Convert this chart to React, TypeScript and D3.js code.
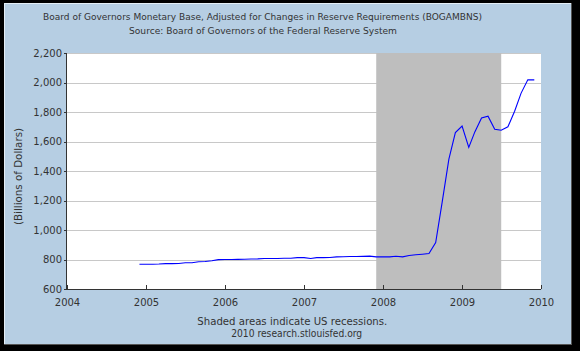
import React from "react";
import * as d3 from "d3";

const startMonth = "2004-12";
const values = [
  768,
  768, 768, 769, 772, 772, 773, 778, 778, 785, 786, 792, 799,
  800, 800, 801, 802, 803, 804, 807, 807, 807, 808, 808, 813,
  813, 807, 813, 813, 814, 818, 819, 820, 820, 821, 823, 818,
  818, 818, 822, 818, 827, 832, 836, 841, 915, 1189, 1480, 1660,
  1705, 1560, 1665, 1760, 1772, 1683, 1676, 1700, 1805, 1928, 2018, 2018,
];
const yTicks = [600, 800, 1000, 1200, 1400, 1600, 1800, 2000, 2200];
const xTickYears = [2004, 2005, 2006, 2007, 2008, 2009, 2010];
const recessions = [["2007-12-01", "2009-07-01"]];
const titleLines = [
  "Board of Governors Monetary Base, Adjusted for Changes in Reserve Requirements (BOGAMBNS)",
  "Source: Board of Governors of the Federal Reserve System",
];
const footerLines = ["Shaded areas indicate US recessions.", "2010 research.stlouisfed.org"];
const yTitle = "(Billions of Dollars)";

const W = 580, H = 351;
const L = 67, R = 541, T = 53, B = 289;
const FONT = "'DejaVu Sans', Verdana, sans-serif";
const TXT = "#333";
const titleLayout = [
  { x: 262.5, y: 20, w: 439 },
  { x: 263, y: 34, w: 268 },
];
const footerLayout = [
  { x: 292.3, y: 324.5, w: 190 },
  { x: 296.7, y: 337, w: 131 },
];

export default function App() {
  const parse = d3.timeParse("%Y-%m");
  const start = parse(startMonth)!;
  const data = values.map((v, i) => ({ date: d3.timeMonth.offset(start, i), v }));
  const x = d3.scaleTime().domain([new Date(2004, 0, 1), new Date(2010, 0, 1)]).range([L, R]);
  const y = d3.scaleLinear().domain([600, 2200]).range([B, T]);
  const line = d3.line<{ date: Date; v: number }>().x(d => x(d.date)).y(d => y(d.v));
  const fmt = d3.format(",");
  return (
    <svg width={W} height={H} style={{ position: "absolute", left: 0, top: 0 }}>
      <rect x={0} y={0} width={W} height={H} fill="#000" />
      <rect x={4} y={3} width={567} height={341} fill="#b6cee3" />
      <line x1={4} y1={3.5} x2={571} y2={3.5} stroke="#e4eef6" />
      <line x1={4.5} y1={3} x2={4.5} y2={344} stroke="#e4eef6" />
      <line x1={571.5} y1={3} x2={571.5} y2={345} stroke="#555" />
      <line x1={4} y1={344.5} x2={572} y2={344.5} stroke="#555" />
      <rect x={L} y={T} width={R - L} height={B - T} fill="#fff" />
      {yTicks.map(t => (
        <line key={t} x1={L} x2={R} y1={Math.round(y(t)) + 0.5} y2={Math.round(y(t)) + 0.5} stroke="#c8c8c8" />
      ))}
      {recessions.map(([a, b]) => {
        const x0 = x(new Date(a)), x1 = x(new Date(b));
        return <rect key={a} x={x0} y={T} width={x1 - x0} height={B - T} fill="#bebebe" />;
      })}
      <path d={line(data)!} fill="none" stroke="#0000ff" strokeWidth={1.1} />
      <line x1={L - 0.5} x2={L - 0.5} y1={T} y2={B} stroke="#333" />
      <line x1={L} x2={R} y1={B + 0.5} y2={B + 0.5} stroke="#333" />
      {yTicks.map(t => (
        <g key={t}>
          <line x1={L - 3} x2={L} y1={Math.round(y(t)) + 0.5} y2={Math.round(y(t)) + 0.5} stroke="#333" />
          <text x={62} y={y(t)} dy="0.35em" textAnchor="end" fontFamily={FONT} fontSize={10} fill={TXT}>{fmt(t)}</text>
        </g>
      ))}
      {xTickYears.map(yr => {
        const px = Math.round(x(new Date(yr, 0, 1))) + 0.5;
        return (
          <g key={yr}>
            <line x1={px} x2={px} y1={B - 4} y2={B} stroke="#333" />
            <text x={px} y={306} textAnchor="middle" fontFamily={FONT} fontSize={10} fill={TXT}>{yr}</text>
          </g>
        );
      })}
      <text transform={`translate(22,176.5) rotate(-90)`} textAnchor="middle" fontFamily={FONT} fontSize={10} fill={TXT}
        textLength={97} lengthAdjust="spacingAndGlyphs">{yTitle}</text>
      {titleLines.map((s, i) => (
        <text key={i} x={titleLayout[i].x} y={titleLayout[i].y} textAnchor="middle" fontFamily={FONT} fontSize={9.1} fill={TXT}
          textLength={titleLayout[i].w} lengthAdjust="spacingAndGlyphs">{s}</text>
      ))}
      {footerLines.map((s, i) => (
        <text key={i} x={footerLayout[i].x} y={footerLayout[i].y} textAnchor="middle" fontFamily={FONT} fontSize={10} fill={TXT}
          textLength={footerLayout[i].w} lengthAdjust="spacingAndGlyphs">{s}</text>
      ))}
    </svg>
  );
}
